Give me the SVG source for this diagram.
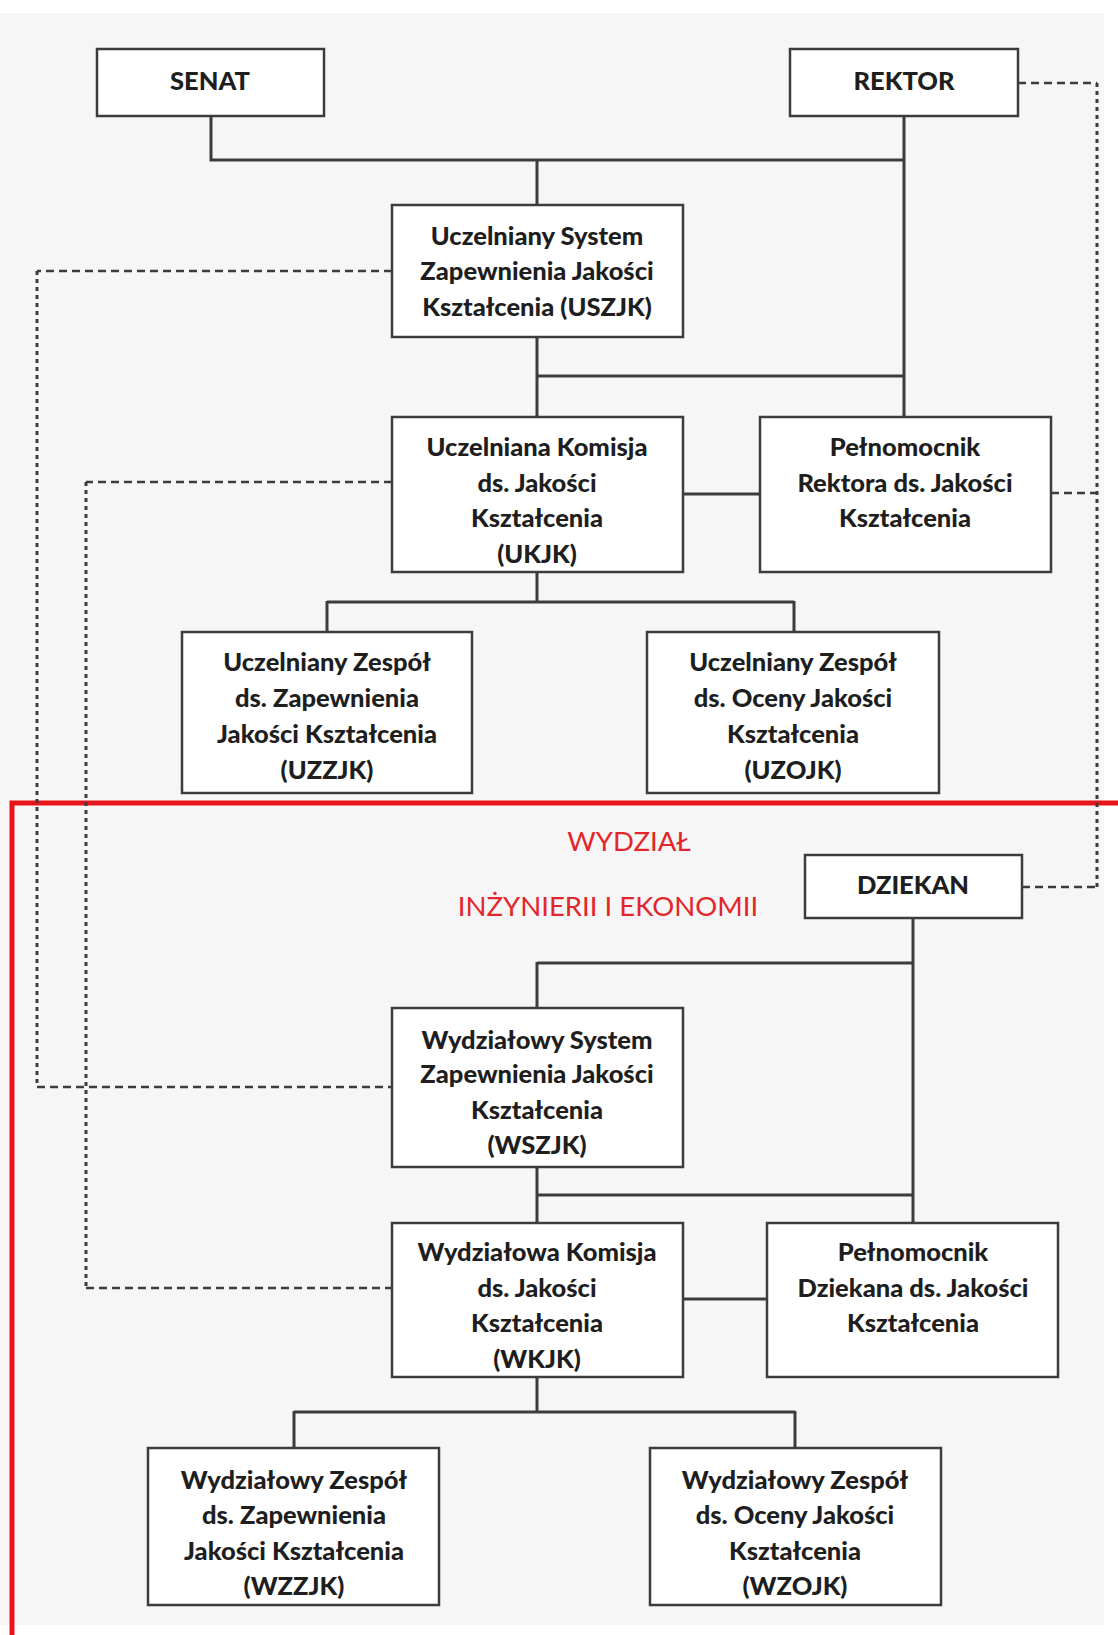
<svg xmlns="http://www.w3.org/2000/svg" width="1118" height="1635" viewBox="0 0 1118 1635">
<style>
.box{fill:#ffffff;stroke:#3c3c3c;stroke-width:2.5}
.lbl{font-family:Lato,"Open Sans","Liberation Sans",sans-serif;font-weight:900;font-size:25.5px;fill:#1e1e1e;text-anchor:middle;dominant-baseline:central}
.red{font-family:Lato,"Open Sans","Liberation Sans",sans-serif;font-weight:400;font-size:27.5px;fill:#e3262b;text-anchor:middle;dominant-baseline:central}
.ln{fill:none;stroke:#3c3c3c;stroke-width:3}
.dh{fill:none;stroke:#3c3c3c;stroke-width:2.5;stroke-dasharray:8 5}
.dv{fill:none;stroke:#3c3c3c;stroke-width:3;stroke-dasharray:4 4}
</style>
<rect x="0" y="0" width="1118" height="1635" fill="#ffffff"/>
<rect x="0" y="13" width="1104" height="1612" fill="#f6f6f6"/>
<path d="M12,1640 V803 H1120" fill="none" stroke="#e8141c" stroke-width="5"/>
<text class="red" x="629" y="840">WYDZIAŁ</text>
<text class="red" x="608" y="905">INŻYNIERII I EKONOMII</text>
<g id="connectors">
<path class="ln" d="M211,116 V160 H904"/>
<path class="ln" d="M904,116 V417"/>
<path class="ln" d="M537,160 V205"/>
<path class="ln" d="M537,337 V417 M537,376 H904"/>
<path class="ln" d="M683,494 H760"/>
<path class="ln" d="M537,572 V602 M327,602 H794 M327,601 V632 M794,601 V632"/>
<path class="ln" d="M913,918 V1223"/>
<path class="ln" d="M537,963 H913 M537,962 V1008"/>
<path class="ln" d="M537,1167 V1223 M537,1195 H913"/>
<path class="ln" d="M683,1299 H767"/>
<path class="ln" d="M537,1377 V1412 M294,1412 H795 M294,1411 V1448 M795,1411 V1448"/>
<path class="dh" d="M1018,83 H1097"/>
<path class="dv" d="M1097,83 V887"/>
<path class="dh" d="M1051,493 H1097"/>
<path class="dh" d="M1022,887 H1097"/>
<path class="dh" d="M392,271 H37"/>
<path class="dv" d="M37,271 V1087"/>
<path class="dh" d="M37,1087 H392"/>
<path class="dh" d="M392,482 H86"/>
<path class="dv" d="M86,482 V1288"/>
<path class="dh" d="M86,1288 H392"/>
</g>
<g id="senat"><rect class="box" x="97" y="49" width="227" height="67"/><text class="lbl" x="210" y="80">SENAT</text></g>
<g id="rektor"><rect class="box" x="790" y="49" width="228" height="67"/><text class="lbl" x="904" y="80">REKTOR</text></g>
<g id="uszjk"><rect class="box" x="392" y="205" width="291" height="132"/>
<text class="lbl" x="537" y="235">Uczelniany System</text><text class="lbl" x="537" y="270">Zapewnienia Jakości</text><text class="lbl" x="537" y="306">Kształcenia (USZJK)</text></g>
<g id="ukjk"><rect class="box" x="392" y="417" width="291" height="155"/>
<text class="lbl" x="537" y="446">Uczelniana Komisja</text><text class="lbl" x="537" y="482">ds. Jakości</text><text class="lbl" x="537" y="517">Kształcenia</text><text class="lbl" x="537" y="553">(UKJK)</text></g>
<g id="prjk"><rect class="box" x="760" y="417" width="291" height="155"/>
<text class="lbl" x="905" y="446">Pełnomocnik</text><text class="lbl" x="905" y="482">Rektora ds. Jakości</text><text class="lbl" x="905" y="517">Kształcenia</text></g>
<g id="uzzjk"><rect class="box" x="182" y="632" width="290" height="161"/>
<text class="lbl" x="327" y="661">Uczelniany Zespół</text><text class="lbl" x="327" y="697">ds. Zapewnienia</text><text class="lbl" x="327" y="733">Jakości Kształcenia</text><text class="lbl" x="327" y="769">(UZZJK)</text></g>
<g id="uzojk"><rect class="box" x="647" y="632" width="292" height="161"/>
<text class="lbl" x="793" y="661">Uczelniany Zespół</text><text class="lbl" x="793" y="697">ds. Oceny Jakości</text><text class="lbl" x="793" y="733">Kształcenia</text><text class="lbl" x="793" y="769">(UZOJK)</text></g>
<g id="dziekan"><rect class="box" x="805" y="855" width="217" height="63"/><text class="lbl" x="913" y="884">DZIEKAN</text></g>
<g id="wszjk"><rect class="box" x="392" y="1008" width="291" height="159"/>
<text class="lbl" x="537" y="1039">Wydziałowy System</text><text class="lbl" x="537" y="1073">Zapewnienia Jakości</text><text class="lbl" x="537" y="1109">Kształcenia</text><text class="lbl" x="537" y="1144">(WSZJK)</text></g>
<g id="wkjk"><rect class="box" x="392" y="1223" width="291" height="154"/>
<text class="lbl" x="537" y="1251">Wydziałowa Komisja</text><text class="lbl" x="537" y="1287">ds. Jakości</text><text class="lbl" x="537" y="1322">Kształcenia</text><text class="lbl" x="537" y="1358">(WKJK)</text></g>
<g id="pdjk"><rect class="box" x="767" y="1223" width="291" height="154"/>
<text class="lbl" x="913" y="1251">Pełnomocnik</text><text class="lbl" x="913" y="1287">Dziekana ds. Jakości</text><text class="lbl" x="913" y="1322">Kształcenia</text></g>
<g id="wzzjk"><rect class="box" x="148" y="1448" width="291" height="157"/>
<text class="lbl" x="294" y="1479">Wydziałowy Zespół</text><text class="lbl" x="294" y="1514">ds. Zapewnienia</text><text class="lbl" x="294" y="1550">Jakości Kształcenia</text><text class="lbl" x="294" y="1585">(WZZJK)</text></g>
<g id="wzojk"><rect class="box" x="650" y="1448" width="291" height="157"/>
<text class="lbl" x="795" y="1479">Wydziałowy Zespół</text><text class="lbl" x="795" y="1514">ds. Oceny Jakości</text><text class="lbl" x="795" y="1550">Kształcenia</text><text class="lbl" x="795" y="1585">(WZOJK)</text></g>
</svg>
